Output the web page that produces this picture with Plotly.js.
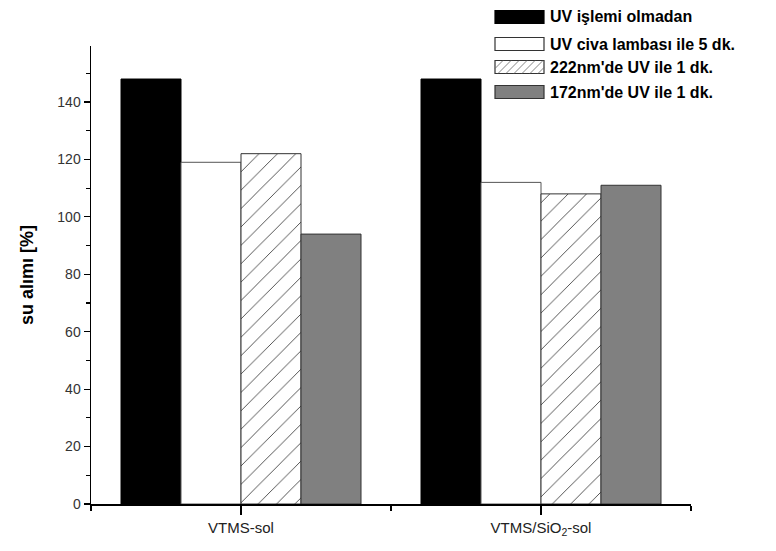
<!DOCTYPE html>
<html>
<head>
<meta charset="utf-8">
<script src="https://cdn.plot.ly/plotly-3.0.1.min.js"></script>
<style>html,body{margin:0;padding:0;background:#fff;}#chart{width:776px;height:551px;}</style>
</head>
<body>
<div id="chart"></div>
<script>
const categories = ["VTMS-sol", "VTMS/SiO<sub>2</sub>-sol"];
const seriesNames = ["UV işlemi olmadan", "UV civa lambası ile 5 dk.", "222nm'de UV ile 1 dk.", "172nm'de UV ile 1 dk."];
const noUV = [148, 148];
const mercury5 = [119, 112];
const uv222 = [122, 108];
const uv172 = [94, 111];
const yTicks = [0, 20, 40, 60, 80, 100, 120, 140];

const W = 776, H = 551;
const M = {l: 91, r: 85, t: 46, b: 47};
const plotW = W - M.l - M.r, plotH = H - M.t - M.b;
const px2x = p => (p - M.l) / plotW;
const px2y = p => (H - M.b - p) / plotH;

const xPos = categories.map((c, i) => i);
const values = [noUV, mercury5, uv222, uv172];
const fills = ["#000000", "#ffffff", "#ffffff", "#808080"];
const edges = ["#000000", "#555555", "#333333", "#333333"];
const styles = fills.map((f, k) => {
  const s = {color: f, line: {color: edges[k], width: 1}};
  if (k === 2) s.pattern = {shape: "/", fgcolor: "#444444", bgcolor: "#ffffff", size: 13, solidity: 0.07};
  return s;
});
const traces = values.map((v, k) => ({
  type: "bar", x: xPos, y: v, name: seriesNames[k],
  marker: styles[k], width: 0.2, hoverinfo: "y", showlegend: false
}));

// custom legend (wide boxes like the original)
const legBox = {x0: 495, x1: 544, h: 13};
const legRows = [17, 44, 67, 92];
const shapes = [], annotations = [];
legRows.forEach((cy, k) => {
  const y0 = cy - legBox.h / 2, y1 = cy + legBox.h / 2;
  shapes.push({type: "rect", xref: "paper", yref: "paper",
    x0: px2x(legBox.x0), x1: px2x(legBox.x1), y0: px2y(y1), y1: px2y(y0),
    fillcolor: fills[k], line: {color: k === 0 ? "#000" : "#333", width: 1.2}});
  if (k === 2) {
    let d = "";
    const hh = y1 - y0, step = 8;
    for (let s = -hh; s < legBox.x1 - legBox.x0; s += step) {
      let ta = Math.max(0, -s), tb = Math.min(hh, legBox.x1 - legBox.x0 - s);
      if (tb <= ta) continue;
      const xa = legBox.x0 + s + ta, ya = y1 - ta, xb = legBox.x0 + s + tb, yb = y1 - tb;
      d += `M${px2x(xa)},${px2y(ya)}L${px2x(xb)},${px2y(yb)}`;
    }
    shapes.push({type: "path", xref: "paper", yref: "paper", path: d, line: {color: "#666", width: 0.8}});
  }
  annotations.push({xref: "paper", yref: "paper", x: px2x(548), y: px2y(cy),
    xanchor: "left", yanchor: "middle", showarrow: false,
    text: "<b>" + seriesNames[k] + "</b>",
    font: {family: "Liberation Sans, Arial, sans-serif", size: 16, color: "#000"}});
});

const layout = {
  width: W, height: H,
  margin: {l: M.l, r: M.r, t: M.t, b: M.b, autoexpand: false},
  paper_bgcolor: "#fff", plot_bgcolor: "#fff",
  barmode: "group", bargap: 0.2, bargroupgap: 0,
  showlegend: false,
  shapes: shapes, annotations: annotations,
  xaxis: {
    range: [-0.5, 1.5],
    tickmode: "array", tickvals: xPos, ticktext: categories,
    showline: true, linecolor: "#000", linewidth: 1.5,
    ticks: "outside", ticklen: 9, tickwidth: 1.2, tickcolor: "#000",
    minor: {tickmode: "array", tickvals: [-0.5, 0.5, 1.5], ticks: "outside", ticklen: 5, tickcolor: "#000", tickwidth: 1.2},
    showgrid: false, zeroline: false,
    tickfont: {family: "Liberation Sans, Arial, sans-serif", size: 15, color: "#222"}
  },
  yaxis: {
    range: [0, 159.5],
    tickmode: "array", tickvals: yTicks,
    showline: true, linecolor: "#000", linewidth: 1.5,
    ticks: "outside", ticklen: 6, tickwidth: 1.2, tickcolor: "#000",
    minor: {dtick: 10, tick0: 0, ticks: "outside", ticklen: 4, tickcolor: "#000", tickwidth: 1.2},
    showgrid: false, zeroline: false,
    tickfont: {family: "Liberation Sans, Arial, sans-serif", size: 14, color: "#333"},
    title: {text: "<b>su alımı [%]</b>", font: {family: "Liberation Sans, Arial, sans-serif", size: 18, color: "#000"}, standoff: 19}
  }
};

Plotly.newPlot("chart", traces, layout, {displayModeBar: false, staticPlot: true});
</script>
</body>
</html>
